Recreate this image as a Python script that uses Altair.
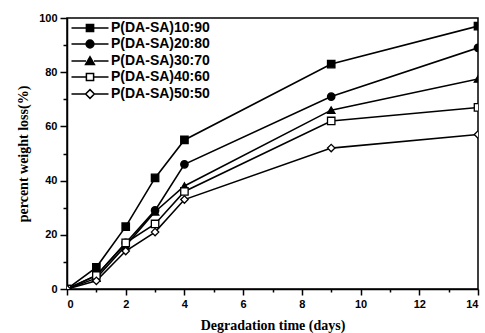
import altair as alt
import pandas as pd

days = [0, 1, 2, 3, 4, 9, 14]
series = ["P(DA-SA)10:90", "P(DA-SA)20:80", "P(DA-SA)30:70", "P(DA-SA)40:60", "P(DA-SA)50:50"]
loss_10_90 = [0, 8, 23, 41, 55, 83, 97]
loss_20_80 = [0, 5, 17, 29, 46, 71, 89]
loss_30_70 = [0, 4, 16, 28.5, 38, 66, 77.5]
loss_40_60 = [0, 5, 17, 24, 36, 62, 67]
loss_50_50 = [0, 3, 14, 21, 33, 52, 57]

all_losses = [loss_10_90, loss_20_80, loss_30_70, loss_40_60, loss_50_50]
rows = []
for name, vals in zip(series, all_losses):
    for d, v in zip(days, vals):
        rows.append({"series": name, "day": d, "loss": v})
df = pd.DataFrame(rows)

plot_shapes = ["square", "circle", "triangle-up", "square", "diamond"]
fills = ["black", "black", "black", "white", "white"]
strokes = ["black", "black", "black", "black", "black"]
# legend glyphs: a line with the marker in its middle (unit = half of sqrt(symbolSize))
legend_paths = [
    "M-3.7,0H-0.72M0.72,0H3.7M-0.72,-0.72H0.72V0.72H-0.72Z",
    "M-3.7,0H-0.78M0.78,0H3.7M-0.78,0A0.78,0.78 0 1,0 0.78,0A0.78,0.78 0 1,0 -0.78,0Z",
    "M-3.7,0H-0.8M0.8,0H3.7M-0.88,0.68L0,-0.85L0.88,0.68Z",
    "M-3.7,0H-0.72M0.72,0H3.7M-0.72,-0.72H0.72V0.72H-0.72Z",
    "M-3.7,0H-0.88M0.88,0H3.7M0,-0.88L0.88,0L0,0.88L-0.88,0Z",
]

x_enc = alt.X(
    "day:Q",
    scale=alt.Scale(domain=[0, 14], nice=False),
    axis=alt.Axis(
        values=list(range(0, 15)),
        labelExpr="datum.value % 2 === 0 ? datum.label : ''",
        tickSize={"condition": {"test": "datum.value % 2 === 0", "value": 6}, "value": 3},
        title="Degradation time (days)",
        titleFont="Liberation Serif",
        titleFontWeight="bold",
        titleFontSize=14,
        titlePadding=9,
        labelFont="Liberation Sans",
        labelFontWeight="bold",
        labelFontSize=11,
        labelPadding=3,
        domainColor="black",
        domainWidth=1.5,
        tickColor="black",
        tickWidth=1.5,
        labelColor="black",
        titleColor="black",
        grid=False,
    ),
)
y_enc = alt.Y(
    "loss:Q",
    scale=alt.Scale(domain=[0, 100], nice=False),
    axis=alt.Axis(
        values=list(range(0, 101, 10)),
        labelExpr="datum.value % 20 === 0 ? datum.label : ''",
        tickSize={"condition": {"test": "datum.value % 20 === 0", "value": 7}, "value": 4},
        title="percent weight loss(%)",
        titleFont="Liberation Serif",
        titleFontWeight="bold",
        titleFontSize=14,
        titlePadding=8,
        labelFont="Liberation Sans",
        labelFontWeight="bold",
        labelFontSize=11,
        labelPadding=3,
        domainColor="black",
        domainWidth=1.5,
        tickColor="black",
        tickWidth=1.5,
        labelColor="black",
        titleColor="black",
        grid=False,
    ),
)

base = alt.Chart(df)

lines = base.mark_line(color="black", strokeWidth=1.6, clip=True).encode(
    x=x_enc, y=y_enc, detail="series:N"
)

points = base.mark_point(stroke="black", strokeWidth=1.3, opacity=1, size=55, clip=True).encode(
    x=x_enc,
    y=y_enc,
    shape=alt.Shape("series:N", scale=alt.Scale(domain=series, range=plot_shapes), legend=None),
    fill=alt.Fill("series:N", scale=alt.Scale(domain=series, range=fills), legend=None),
)

legend_props = dict(
    title=None,
    orient="none",
    legendX=16,
    legendY=3,
    labelFont="Liberation Sans",
    labelFontWeight="bold",
    labelFontSize=14,
    labelColor="black",
    labelOffset=14,
    rowPadding=2,
    symbolSize=100,
    symbolStrokeColor="black",
    symbolStrokeWidth=1.5,
    symbolOpacity=1,
)

legend_layer = base.transform_filter("false").mark_point(
    stroke="black", strokeWidth=1.5, opacity=1
).encode(
    x=x_enc,
    y=y_enc,
    shape=alt.Shape(
        "series:N",
        scale=alt.Scale(domain=series, range=legend_paths),
        legend=alt.Legend(**legend_props),
    ),
    fill=alt.Fill(
        "series:N",
        scale=alt.Scale(domain=series, range=fills),
        legend=alt.Legend(**legend_props),
    ),
    stroke=alt.Stroke(
        "series:N",
        scale=alt.Scale(domain=series, range=strokes),
        legend=alt.Legend(**legend_props),
    ),
)

chart = (
    alt.layer(lines, points, legend_layer)
    .resolve_scale(shape="independent", fill="independent", stroke="independent")
    .properties(
        width=411,
        height=271,
        autosize=alt.AutoSizeParams(type="none"),
        padding={"left": 67, "top": 18, "right": 7, "bottom": 44},
        background="white",
    )
    .configure_view(stroke="black", strokeWidth=1.5)
)

chart.save("out.html", embed_options={"renderer": "svg", "actions": False})
